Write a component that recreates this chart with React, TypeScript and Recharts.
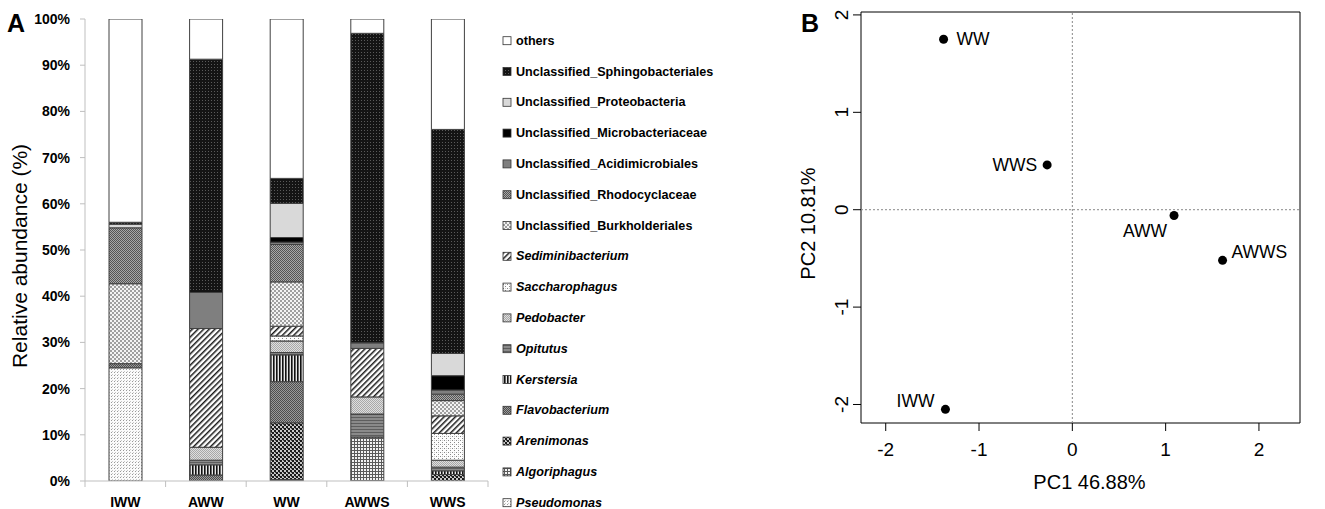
import { BarChart, Bar, XAxis, YAxis, ScatterChart, Scatter, ReferenceLine, ReferenceArea } from 'recharts';

// Panel A: relative abundance per sample (%)
const categories = ['IWW', 'AWW', 'WW', 'AWWS', 'WWS'];
const pseudomonas = [24.5, 0, 0, 0, 0];
const algoriphagus = [0, 0, 0.3, 9.5, 0];
const arenimonas = [0, 0, 12.3, 0, 1.4];
const flavobacterium = [0.9, 1.3, 8.9, 0, 0];
const kerstersia = [0, 2.2, 5.8, 0, 0.8];
const opitutus = [0, 1.0, 0.5, 5.0, 0.8];
const pedobacter = [0, 2.8, 2.5, 3.7, 1.5];
const saccharophagus = [0, 0, 1.1, 0, 5.8];
const sediminibacterium = [0, 25.7, 2.1, 10.5, 3.8];
const burkholderiales = [17.3, 0, 9.6, 0, 3.3];
const rhodocyclaceae = [12.1, 0, 8.1, 0, 1.4];
const acidimicrobiales = [0, 7.8, 0.5, 1.2, 0.9];
const microbacteriaceae = [0, 0, 1.0, 0, 3.1];
const proteobacteria = [0.8, 0, 7.4, 0, 4.8];
const sphingobacteriales = [0.4, 50.5, 5.4, 67.0, 48.5];
const others = [44.0, 8.7, 34.5, 3.1, 23.9];
const percentTicks = [0, 10, 20, 30, 40, 50, 60, 70, 80, 90, 100];

// Panel B: PCA scores
const pcaSamples = ['WW', 'WWS', 'AWW', 'AWWS', 'IWW'];
const pc1 = [-1.38, -0.27, 1.09, 1.61, -1.36];
const pc2 = [1.75, 0.46, -0.06, -0.52, -2.05];
const pcTicks = [-2, -1, 0, 1, 2];
const pc1Domain = [-2.265, 2.44];
const pc2Domain = [-2.19, 2.03];

// stacking order, bottom to top
const taxa = [
  { key: 'pseudomonas', label: 'Pseudomonas', italic: true, values: pseudomonas, fill: 'url(#p-pseudo)' },
  { key: 'algoriphagus', label: 'Algoriphagus', italic: true, values: algoriphagus, fill: 'url(#p-algo)' },
  { key: 'arenimonas', label: 'Arenimonas', italic: true, values: arenimonas, fill: 'url(#p-areni)' },
  { key: 'flavobacterium', label: 'Flavobacterium', italic: true, values: flavobacterium, fill: 'url(#p-flavo)' },
  { key: 'kerstersia', label: 'Kerstersia', italic: true, values: kerstersia, fill: 'url(#p-kerst)' },
  { key: 'opitutus', label: 'Opitutus', italic: true, values: opitutus, fill: 'url(#p-opit)' },
  { key: 'pedobacter', label: 'Pedobacter', italic: true, values: pedobacter, fill: 'url(#p-pedo)' },
  { key: 'saccharophagus', label: 'Saccharophagus', italic: true, values: saccharophagus, fill: 'url(#p-sacch)' },
  { key: 'sediminibacterium', label: 'Sediminibacterium', italic: true, values: sediminibacterium, fill: 'url(#p-sedi)' },
  { key: 'burkholderiales', label: 'Unclassified_Burkholderiales', italic: false, values: burkholderiales, fill: 'url(#p-burk)' },
  { key: 'rhodocyclaceae', label: 'Unclassified_Rhodocyclaceae', italic: false, values: rhodocyclaceae, fill: 'url(#p-rhodo)' },
  { key: 'acidimicrobiales', label: 'Unclassified_Acidimicrobiales', italic: false, values: acidimicrobiales, fill: '#7f7f7f' },
  { key: 'microbacteriaceae', label: 'Unclassified_Microbacteriaceae', italic: false, values: microbacteriaceae, fill: '#000000' },
  { key: 'proteobacteria', label: 'Unclassified_Proteobacteria', italic: false, values: proteobacteria, fill: '#d9d9d9' },
  { key: 'sphingobacteriales', label: 'Unclassified_Sphingobacteriales', italic: false, values: sphingobacteriales, fill: 'url(#p-sphingo)' },
  { key: 'others', label: 'others', italic: false, values: others, fill: '#ffffff' },
];

const barData = categories.map((name, i) => {
  const row: Record<string, any> = { name };
  taxa.forEach((t) => { row[t.key] = t.values[i]; });
  return row;
});

const pcaData = pcaSamples.map((name, i) => ({ name, x: pc1[i], y: pc2[i] }));

// where each sample name sits relative to its dot
const labelPlacement: Record<string, { dx: number; dy: number; anchor: string }> = {
  WW: { dx: 13, dy: 0, anchor: 'start' },
  WWS: { dx: -10, dy: 0, anchor: 'end' },
  AWW: { dx: -7, dy: 15, anchor: 'end' },
  AWWS: { dx: 9, dy: -8, anchor: 'start' },
  IWW: { dx: -11, dy: -8, anchor: 'end' },
};

const Patterns = () => (
  <svg width={0} height={0} style={{ position: 'absolute' }}>
    <defs>
      <pattern id="p-sphingo" width="3" height="3" patternUnits="userSpaceOnUse">
        <rect width="3" height="3" fill="#141414" />
        <rect x="1" y="1" width="1" height="1" fill="#5a5a5a" />
      </pattern>
      <pattern id="p-rhodo" width="2" height="2" patternUnits="userSpaceOnUse">
        <rect width="2" height="2" fill="#a8a8a8" />
        <rect width="1" height="1" fill="#555" />
        <rect x="1" y="1" width="1" height="1" fill="#555" />
      </pattern>
      <pattern id="p-burk" width="4" height="4" patternUnits="userSpaceOnUse">
        <rect width="4" height="4" fill="#f4f4f4" />
        <rect width="2" height="2" fill="#a0a0a0" />
        <rect x="2" y="2" width="2" height="2" fill="#a0a0a0" />
      </pattern>
      <pattern id="p-sedi" width="4" height="4" patternUnits="userSpaceOnUse" patternTransform="rotate(45)">
        <rect width="4" height="4" fill="#fff" />
        <rect width="1.5" height="4" fill="#1a1a1a" />
      </pattern>
      <pattern id="p-sacch" width="4" height="4" patternUnits="userSpaceOnUse">
        <rect width="4" height="4" fill="#fdfdfd" />
        <rect width="1" height="1" fill="#888" />
        <rect x="2" y="2" width="1" height="1" fill="#888" />
        <rect x="2" y="0" width="1" height="1" fill="#ccc" />
      </pattern>
      <pattern id="p-pedo" width="2" height="2" patternUnits="userSpaceOnUse">
        <rect width="2" height="2" fill="#dedede" />
        <rect width="1" height="1" fill="#a8a8a8" />
        <rect x="1" y="1" width="1" height="1" fill="#a8a8a8" />
      </pattern>
      <pattern id="p-opit" width="3" height="3" patternUnits="userSpaceOnUse">
        <rect width="3" height="3" fill="#8a8a8a" />
        <rect width="3" height="1" fill="#5e5e5e" />
      </pattern>
      <pattern id="p-kerst" width="3" height="3" patternUnits="userSpaceOnUse">
        <rect width="3" height="3" fill="#e8e8e8" />
        <rect width="1.6" height="3" fill="#111" />
      </pattern>
      <pattern id="p-flavo" width="2" height="2" patternUnits="userSpaceOnUse">
        <rect width="2" height="2" fill="#9a9a9a" />
        <rect width="1" height="1" fill="#4e4e4e" />
        <rect x="1" y="1" width="1" height="1" fill="#4e4e4e" />
      </pattern>
      <pattern id="p-areni" width="4" height="4" patternUnits="userSpaceOnUse">
        <rect width="4" height="4" fill="#c8c8c8" />
        <rect width="2" height="2" fill="#1a1a1a" />
        <rect x="2" y="2" width="2" height="2" fill="#1a1a1a" />
        <rect x="3" y="0" width="1" height="1" fill="#555" />
      </pattern>
      <pattern id="p-algo" width="3" height="3" patternUnits="userSpaceOnUse">
        <rect width="3" height="3" fill="#f2f2f2" />
        <rect width="3" height="1" fill="#5a5a5a" />
        <rect width="1" height="3" fill="#5a5a5a" />
      </pattern>
      <pattern id="p-pseudo" width="3" height="3" patternUnits="userSpaceOnUse">
        <rect width="3" height="3" fill="#fbfbfb" />
        <rect width="1" height="1" fill="#999" />
        <rect x="1" y="2" width="1" height="1" fill="#c8c8c8" />
      </pattern>
    </defs>
  </svg>
);

const SampleTick = (props: any) => {
  const { x, y, payload, index } = props;
  const half = payload && payload.offset ? payload.offset : 40.3;
  return (
    <g>
      <line x1={x - half} x2={x - half} y1={y} y2={y + 6} stroke="#bfbfbf" />
      {index === categories.length - 1 && <line x1={x + half} x2={x + half} y1={y} y2={y + 6} stroke="#bfbfbf" />}
      <text x={x} y={y + 26} textAnchor="middle" fontSize={14} fontWeight="bold" fill="#000">
        {payload.value}
      </text>
    </g>
  );
};

const PcYTick = (props: any) => {
  const { x, y, payload } = props;
  return (
    <text x={x} y={y} transform={`rotate(-90, ${x}, ${y})`} textAnchor="middle" fontSize={19} fill="#000">
      {payload.value}
    </text>
  );
};

const PcPoint = (props: any) => {
  const { cx, cy, payload } = props;
  const p = labelPlacement[payload.name];
  return (
    <g>
      <circle cx={cx} cy={cy} r={4.5} fill="#000" />
      <text x={cx + p.dx} y={cy + p.dy} textAnchor={p.anchor} dominantBaseline="central" fontSize={17.5} fill="#000">
        {payload.name}
      </text>
    </g>
  );
};

const TaxaLegend = () => {
  const items = [...taxa].reverse();
  return (
    <svg width={280} height={509} style={{ position: 'absolute', left: 495, top: 0 }}>
      {items.map((t, i) => {
        const cy = 40.7 + i * 30.8;
        return (
          <g key={t.key}>
            <rect x={8} y={cy - 4} width={8} height={8} fill={t.fill} stroke="#333" strokeWidth={0.8} />
            <text
              x={21}
              y={cy}
              dominantBaseline="central"
              fontSize={12.6}
              fontWeight="bold"
              fontStyle={t.italic ? 'italic' : 'normal'}
              fill="#000"
            >
              {t.label}
            </text>
          </g>
        );
      })}
    </svg>
  );
};

export default function App() {
  return (
    <div
      style={{
        position: 'absolute',
        left: 0,
        top: 0,
        width: 1325,
        height: 509,
        background: '#fff',
        fontFamily: '"Liberation Sans", Arial, sans-serif',
      }}
    >
      <Patterns />
      <svg width={1325} height={509} style={{ position: 'absolute', left: 0, top: 0 }}>
        <text x={7} y={32} fontSize={25} fontWeight="bold">A</text>
        <text x={801} y={32} fontSize={25} fontWeight="bold">B</text>
      </svg>

      <div style={{ position: 'absolute', left: 0, top: 0 }}>
        <BarChart width={500} height={509} data={barData} margin={{ top: 19, right: 12, bottom: 0, left: 0 }} barSize={33}>
          <XAxis
            dataKey="name"
            height={28}
            stroke="#bfbfbf"
            tickLine={false}
            tickSize={0}
            tickMargin={0}
            tick={<SampleTick />}
            interval={0}
          />
          <YAxis
            width={85}
            domain={[0, 100]}
            ticks={percentTicks}
            allowDataOverflow
            stroke="#bfbfbf"
            tickSize={5}
            tickMargin={10}
            tickFormatter={(v) => `${v}%`}
            tick={{ fontSize: 14, fontWeight: 'bold', fill: '#000' }}
            label={(p: any) => {
              const vb = p.viewBox;
              const cy = vb.y + vb.height / 2 + 6;
              return (
                <text x={27} y={cy} transform={`rotate(-90, 27, ${cy})`} textAnchor="middle" fontSize={21} fill="#000">
                  Relative abundance (%)
                </text>
              );
            }}
          />
          {taxa.map((t) => (
            <Bar key={t.key} dataKey={t.key} stackId="a" fill={t.fill} stroke="#404040" strokeWidth={1} isAnimationActive={false} />
          ))}
        </BarChart>
      </div>

      <TaxaLegend />

      <div style={{ position: 'absolute', left: 780, top: 0 }}>
        <ScatterChart width={545} height={509} margin={{ top: 12, right: 25, bottom: 0, left: 0 }}>
          <XAxis
            type="number"
            dataKey="x"
            domain={pc1Domain}
            ticks={pcTicks}
            allowDataOverflow
            height={86}
            axisLine={false}
            tickSize={8}
            tickMargin={12}
            tickLine={{ stroke: '#000' }}
            tick={{ fontSize: 19, fill: '#000' }}
            label={(p: any) => {
              const vb = p.viewBox;
              return (
                <text x={vb.x + vb.width / 2 + 9} y={vb.y + 66} textAnchor="middle" fontSize={20} fill="#000">
                  PC1 46.88%
                </text>
              );
            }}
          />
          <YAxis
            type="number"
            dataKey="y"
            domain={pc2Domain}
            ticks={pcTicks}
            allowDataOverflow
            width={81}
            axisLine={false}
            tickSize={8}
            tickMargin={5}
            tickLine={{ stroke: '#000' }}
            tick={<PcYTick />}
            label={(p: any) => {
              const vb = p.viewBox;
              const cy = vb.y + vb.height / 2 + 6;
              return (
                <text x={35} y={cy} transform={`rotate(-90, 35, ${cy})`} textAnchor="middle" fontSize={20} fill="#000">
                  PC2 10.81%
                </text>
              );
            }}
          />
          <ReferenceArea
            x1={pc1Domain[0]}
            x2={pc1Domain[1]}
            y1={pc2Domain[0]}
            y2={pc2Domain[1]}
            fill="none"
            fillOpacity={0}
            stroke="#000"
            strokeWidth={1}
          />
          <ReferenceLine x={0} stroke="#888" strokeDasharray="2 2" />
          <ReferenceLine y={0} stroke="#888" strokeDasharray="2 2" />
          <Scatter data={pcaData} shape={<PcPoint />} isAnimationActive={false} />
        </ScatterChart>
      </div>
    </div>
  );
}
